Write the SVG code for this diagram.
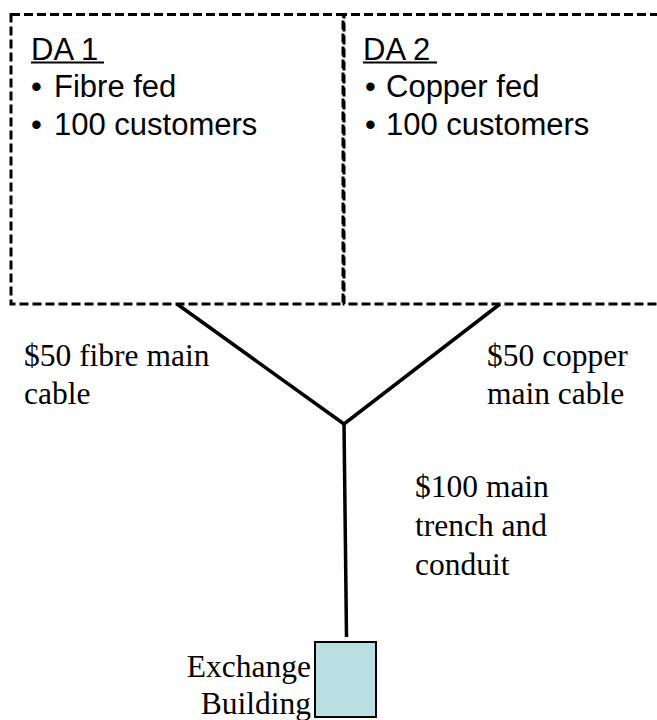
<svg xmlns="http://www.w3.org/2000/svg" width="657" height="720" viewBox="0 0 657 720">
  <style>
    .area { fill: none; stroke: #000; stroke-width: 3; stroke-dasharray: 9 4; }
    .sans { font-family: "Liberation Sans", Arial, sans-serif; font-size: 31px; fill: #000; }
    .serif { font-family: "Liberation Serif", "Times New Roman", serif; font-size: 31.5px; fill: #000; }
    .cable { stroke: #000; stroke-width: 3.5; fill: none; stroke-linecap: butt; }
  </style>
  <rect width="657" height="720" fill="#fff"/>

  <!-- distribution area 1 -->
  <g id="da1">
    <rect class="area" x="11" y="14.5" width="332" height="289.5"/>
    <text class="sans" x="31" y="60">DA 1</text>
    <line x1="31" y1="62.5" x2="104" y2="62.5" stroke="#000" stroke-width="2"/>
    <text class="sans" y="97"><tspan x="31">•</tspan><tspan x="54">Fibre fed</tspan></text>
    <text class="sans" y="135"><tspan x="31">•</tspan><tspan x="54">100 customers</tspan></text>
  </g>

  <!-- distribution area 2 -->
  <g id="da2">
    <rect class="area" x="344" y="14.5" width="340" height="289.5" stroke-dashoffset="6"/>
    <text class="sans" x="363" y="60">DA 2</text>
    <line x1="363" y1="62.5" x2="437" y2="62.5" stroke="#000" stroke-width="2"/>
    <text class="sans" y="97"><tspan x="365">•</tspan><tspan x="386">Copper fed</tspan></text>
    <text class="sans" y="135"><tspan x="365">•</tspan><tspan x="386">100 customers</tspan></text>
  </g>

  <!-- cables and trench -->
  <g id="connectors">
    <polyline class="cable" points="177,304 344,424 500,304"/>
    <line class="cable" x1="344" y1="423" x2="346.5" y2="637"/>
  </g>

  <!-- exchange building -->
  <g id="exchange">
    <rect x="315" y="642" width="61" height="75" fill="#BADFE2" stroke="#000" stroke-width="2"/>
    <text class="serif" text-anchor="end"><tspan x="311" y="677">Exchange</tspan><tspan x="311" y="714">Building</tspan></text>
  </g>

  <!-- cost labels -->
  <g id="label-fibre">
    <text class="serif"><tspan x="24" y="366">$50 fibre main</tspan><tspan x="24" y="404">cable</tspan></text>
  </g>
  <g id="label-copper">
    <text class="serif"><tspan x="487" y="366">$50 copper</tspan><tspan x="487" y="404">main cable</tspan></text>
  </g>
  <g id="label-trench">
    <text class="serif"><tspan x="415" y="497">$100 main</tspan><tspan x="415" y="536">trench and</tspan><tspan x="415" y="575">conduit</tspan></text>
  </g>
</svg>
